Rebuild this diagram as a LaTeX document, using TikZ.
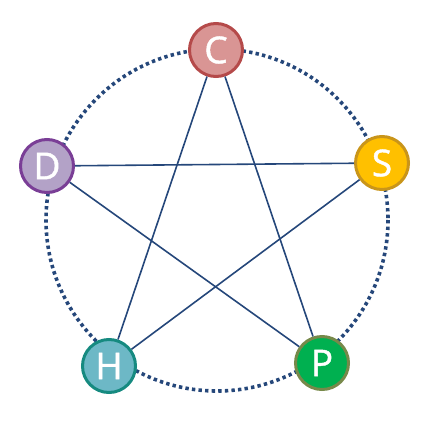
\documentclass[tikz,border=0pt]{standalone}
\usepackage{fontspec}
\setmainfont{Open Sans}
\newfontfamily\ballfont[FakeBold=1.2]{Open Sans}
\definecolor{edgeblue}{HTML}{25477A}
\definecolor{cfill}{HTML}{D99594}\definecolor{cdraw}{HTML}{B54A4A}
\definecolor{sfill}{HTML}{FFC000}\definecolor{sdraw}{HTML}{C9951A}
\definecolor{pfill}{HTML}{00B050}\definecolor{pdraw}{HTML}{77894A}
\definecolor{hfill}{HTML}{6DB8C6}\definecolor{hdraw}{HTML}{168A80}
\definecolor{dfill}{HTML}{B3A2C7}\definecolor{ddraw}{HTML}{7A3E96}
\tikzset{
  ball/.style={circle, minimum size=53pt, inner sep=0pt, line width=3pt, text=white, font=\ballfont\fontsize{37}{37}\selectfont},
  link/.style={edgeblue, line width=1.6pt},
  ring/.style={edgeblue, line width=3.6pt, dash pattern=on 3.4pt off 3.2pt}
}
\begin{document}
\begin{tikzpicture}[x=1pt,y=-1pt]
\useasboundingbox (0,0) rectangle (430,425);
\coordinate (O) at (217,220);
\draw[ring] (O) circle (171);
\node[ball, fill=cfill, draw=cdraw] (C) at (216,50) {C};
\node[ball, fill=sfill, draw=sdraw] (S) at (382,163) {S};
\node[ball, fill=pfill, draw=pdraw] (P) at (322,363) {P};
\node[ball, fill=hfill, draw=hdraw] (H) at (109,366) {H};
\node[ball, fill=dfill, draw=ddraw] (D) at (47,166) {D};
\draw[link] (C) -- (H);
\draw[link] (C) -- (P);
\draw[link] (D) -- (S);
\draw[link] (D) -- (P);
\draw[link] (S) -- (H);
\end{tikzpicture}
\end{document}
